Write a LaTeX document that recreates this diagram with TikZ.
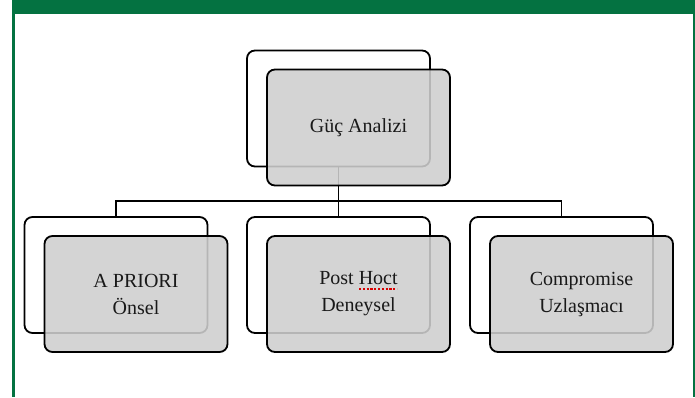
\documentclass[tikz,border=0pt]{standalone}
\usepackage{fontspec}
\setmainfont{Liberation Serif}
\usepackage{xcolor}
\usepackage{tikz}

\definecolor{framegreen}{RGB}{4,114,65}
\definecolor{boxgrey}{RGB}{207,207,207}

\begin{document}
\begin{tikzpicture}[x=1pt,y=-1pt,
    backbox/.style={draw=black,line width=1.8pt,rounded corners=8pt,
        minimum width=183pt,minimum height=116pt,inner sep=0pt},
    frontbox/.style={backbox,fill=boxgrey,fill opacity=.88,text opacity=1,
        align=center,text=black!90,
        font=\fontsize{20}{27}\selectfont},
    link/.style={draw=black,line width=1.6pt}]
    \useasboundingbox (0,0) rectangle (695,397);
    % frame
    \fill[white] (0,0) rectangle (695,397);
    \fill[framegreen] (12,0) rectangle (695,14);
    \fill[framegreen] (12,0) rectangle (14.5,397);
    \fill[framegreen] (692.5,0) rectangle (695,397);
    % back boxes
    \node[backbox] (topback) at (338.5,108.5) {};
    \node[backbox] (leftback) at (116,275) {};
    \node[backbox] (midback) at (338.5,275) {};
    \node[backbox] (rightback) at (561.5,275) {};
    % connectors
    \coordinate (bus) at (338.5,201);
    \draw[link] (topback.south) -- (midback.north);
    \draw[link] (leftback.north) |- (bus) -| (rightback.north);
    % front boxes
    \node[frontbox] (topfront) at (358.5,127.5) {Güç Analizi};
    \node[frontbox] (leftfront) at (136,294) {A PRIORI\\Önsel};
    \node[frontbox] (midfront) at (358.5,294) {Post Hoct\\Deneysel};
    \node[frontbox] (rightfront) at (581.5,294) {Compromise\\Uzlaşmacı};
    % spelling mark
    \draw[red!85!black,line width=1.3pt,dash pattern=on 2.2pt off 1.6pt] (359,289) -- (397,289);
\end{tikzpicture}
\end{document}
